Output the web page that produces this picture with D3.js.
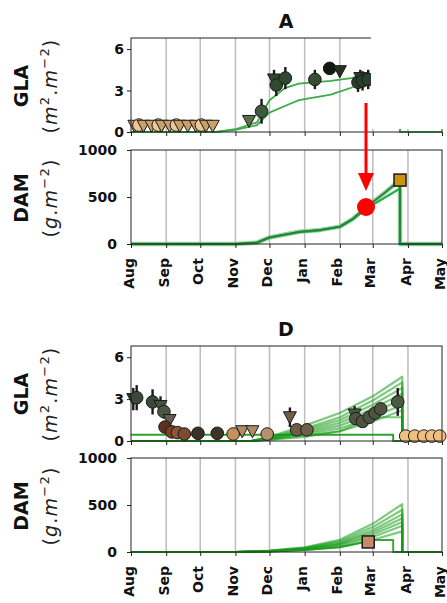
<!DOCTYPE html>
<html><head><meta charset="utf-8">
<script src="https://cdn.jsdelivr.net/npm/d3@7"></script>
<style>body{margin:0;background:#fff}svg{display:block}text{font-family:"DejaVu Sans",sans-serif}</style>
</head><body>
<svg id="c" width="447" height="603"></svg>
<script>
// ---------- DATA ----------
const monthLabels = ["Aug","Sep","Oct","Nov","Dec","Jan","Feb","Mar","Apr","May"];
const monthDates = ["2019-08-01","2019-09-01","2019-10-01","2019-11-01","2019-12-01","2020-01-01","2020-02-01","2020-03-01","2020-04-01","2020-05-01"];
const glaTicks = [0,3,6];
const damTicks = [0,500,1000];

// Panel A - GLA observations
const aObsDates  = ["2019-08-04","2019-08-08","2019-08-12","2019-08-19","2019-08-25","2019-08-28","2019-09-04","2019-09-10","2019-09-13","2019-09-20","2019-09-27","2019-10-02","2019-10-06","2019-10-12",
                    "2019-11-13","2019-11-24","2019-12-05","2019-12-07","2019-12-15","2020-01-10","2020-01-23","2020-02-01","2020-02-17","2020-02-19","2020-02-21","2020-02-26"];
const aObsValues = [0.45,0.5,0.45,0.45,0.5,0.45,0.45,0.5,0.45,0.45,0.45,0.5,0.45,0.45,
                    0.8,1.5,3.8,3.4,3.9,3.8,4.6,4.4,3.6,3.9,3.7,3.8];
const aObsErrors = [0,0,0,0,0,0,0,0,0,0,0,0,0,0,
                    0.3,0.9,0.7,0.8,0.8,0.7,0.2,0.4,0.7,0.6,0.7,0.7];
const aObsShapes = ["v","o","v","v","o","v","v","o","v","v","v","o","v","v",
                    "v","o","v","o","o","o","o","v","o","v","o","o"];
const aObsColors = ["#c9a068","#ecc894","#c9a068","#c9a068","#ecc894","#c9a068","#c9a068","#ecc894","#c9a068","#c9a068","#c9a068","#ecc894","#c9a068","#c9a068",
                    "#5f6e4a","#3d5a3d","#2f4a30","#2f4a30","#2f4a30","#344d34","#111a11","#223322","#2a3f2a","#2a3f2a","#2a3f2a","#2a3f2a"];

// Panel A - GLA simulations
const aGlaSimDates = ["2019-08-01","2019-10-15","2019-11-01","2019-11-20","2019-12-01","2019-12-15","2019-12-27","2020-01-24","2020-02-11","2020-03-01","2020-03-25","2020-03-25","2020-05-01"];
const aGlaSimUpper = [0,0,0.2,0.7,2.3,3.2,3.5,3.7,3.9,4.2,4.3,0,0];
const aGlaSimLower = [0,0,0.15,0.5,1.4,1.9,2.3,2.7,3.2,3.9,4.3,0,0];

// Panel A - DAM simulations & observation
const aDamSimDates = ["2019-08-01","2019-11-01","2019-11-20","2019-12-01","2019-12-27","2020-01-15","2020-02-01","2020-02-12","2020-02-24","2020-03-11","2020-03-25","2020-03-25","2020-05-01"];
const aDamSimUpper = [0,0,15,70,130,150,185,265,390,540,680,0,0];
const aDamSimLower = [0,0,15,68,127,147,182,258,375,490,590,0,0];
const aDamObsDates = ["2020-03-25"];
const aDamObsValues = [680];

// Panel D - GLA observations
const dObsDates  = ["2019-08-03","2019-08-06","2019-08-20","2019-08-27","2019-08-30","2019-09-04","2019-08-31","2019-09-06","2019-09-11","2019-09-17","2019-09-29","2019-10-16","2019-10-30","2019-11-07","2019-11-16","2019-11-29",
                    "2019-12-19","2019-12-25","2020-01-03","2020-02-14","2020-02-15","2020-02-21","2020-02-27","2020-03-03","2020-03-08","2020-03-23","2020-03-30","2020-04-07","2020-04-15","2020-04-22","2020-04-29"];
const dObsValues = [3.0,3.1,2.8,2.5,2.1,1.5,1.0,0.65,0.6,0.5,0.55,0.55,0.5,0.7,0.7,0.5,
                    1.7,0.8,0.8,1.9,1.6,1.4,1.7,2.0,2.3,2.8,0.35,0.35,0.35,0.35,0.35];
const dObsErrors = [0.8,0.9,0.9,0.7,0.5,0.4,0.2,0.1,0.1,0.1,0.1,0.1,0.1,0.1,0.1,0.1,
                    0.7,0.3,0.3,0.6,0.4,0.3,0.3,0.3,0.3,1.0,0,0,0,0,0];
const dObsShapes = ["v","o","o","v","o","v","o","o","o","o","o","o","o","v","v","o",
                    "v","o","o","v","o","o","o","o","o","o","o","o","o","o","o"];
const dObsColors = ["#2f3a2c","#3b4a37","#3b4a37","#43503e","#4a5646","#6a5a50","#5a3020","#7a4028","#8f5535","#7e4a30","#3a3025","#3d3528","#c8905a","#b08a60","#b08a60","#b89070",
                    "#6e5e48","#6e5e48","#6e5e48","#4d5540","#4d5540","#4d5540","#4d5540","#4d5540","#4d5540","#4a5a40","#f0c080","#f0c080","#f0c080","#f0c080","#f0c080"];

// Panel D - GLA simulations
const dGlaFlatDates = ["2019-08-01","2020-03-19","2020-03-19","2020-05-01"];
const dGlaFlatValues = [0.45,0.45,0,0];
const dGlaFanDates = ["2019-08-01","2019-11-15","2019-12-01","2020-01-01","2020-02-01","2020-03-01","2020-03-27","2020-03-27","2020-05-01"];
const dGlaFan1 = [0,0,0.3,1.1,2.0,3.2,4.6,0,0];
const dGlaFan2 = [0,0,0.25,0.9,1.7,2.9,4.2,0,0];
const dGlaFan3 = [0,0,0.2,0.8,1.5,2.6,3.8,0,0];
const dGlaFan4 = [0,0,0.2,0.7,1.3,2.3,3.4,0,0];
const dGlaFan5 = [0,0,0.15,0.6,1.1,2.0,3.0,0,0];
const dGlaFan6 = [0,0,0.15,0.5,0.9,1.7,2.6,0,0];
const dGlaFan7 = [0,0,0.1,0.4,0.7,1.4,2.2,0,0];
const dGlaFan8 = [0,0,0.1,0.3,0.7,1.7,1.7,0,0];

// Panel D - DAM simulations & observation
const dDamFanDates = ["2019-08-01","2019-11-01","2019-12-01","2020-01-01","2020-02-01","2020-03-01","2020-03-27","2020-03-27","2020-05-01"];
const dDamFan1 = [0,0,15,50,130,300,510,0,0];
const dDamFan2 = [0,0,12,45,115,265,450,0,0];
const dDamFan3 = [0,0,10,40,100,235,400,0,0];
const dDamFan4 = [0,0,10,35,90,210,360,0,0];
const dDamFan5 = [0,0,8,30,80,185,320,0,0];
const dDamFan6 = [0,0,8,28,70,160,280,0,0];
const dDamFan7 = [0,0,5,22,55,130,220,0,0];
const dDamStepDates = ["2019-08-01","2019-11-01","2019-12-01","2020-01-01","2020-02-01","2020-03-03","2020-03-19","2020-03-19","2020-05-01"];
const dDamStepValues = [0,0,5,20,50,128,128,0,0];
const dDamObsDates = ["2020-02-26"];
const dDamObsValues = [107];

// ---------- DRAWING ----------
const parse = d3.timeParse("%Y-%m-%d");
const svg = d3.select("#c");
const X0 = 131, X1 = 442;
const x = d3.scaleTime().domain([parse("2019-08-01"), parse("2020-05-01")]).range([X0, X1]);
const tickDates = monthDates.map(parse);

function makePanel(top, bottom, domain, ticks, pad, showX) {
  const y = d3.scaleLinear().domain(domain).range([bottom, top]);
  const g = svg.append("g");
  g.selectAll("line.grid").data(tickDates.slice(1, -1)).enter().append("line")
    .attr("x1", d => x(d)).attr("x2", d => x(d)).attr("y1", top).attr("y2", bottom)
    .attr("stroke", "#bdbdbd").attr("stroke-width", 1.5);
  const layer = g.append("g");
  const ax = g.append("g").attr("transform", `translate(0,${bottom})`)
    .call(d3.axisBottom(x).tickValues(tickDates).tickSize(4).tickFormat((d, i) => showX ? monthLabels[i] : ""));
  ax.select(".domain").remove();
  ax.selectAll("line").attr("stroke", "#222");
  if (showX) {
    ax.selectAll("text").attr("transform", "rotate(-90)").attr("text-anchor", "end")
      .attr("x", -14).attr("y", 0).attr("dy", "0.15em")
      .attr("font-size", 14).attr("font-weight", "bold").attr("fill", "#111");
  }
  const ay = g.append("g").attr("transform", `translate(${X0},0)`)
    .call(d3.axisLeft(y).tickValues(ticks).tickSize(4).tickPadding(pad).tickFormat(d3.format("d")));
  ay.select(".domain").remove();
  ay.selectAll("line").attr("stroke", "#222");
  ay.selectAll("text").attr("font-size", 14).attr("font-weight", "bold").attr("fill", "#111");
  g.append("rect").attr("x", X0).attr("y", top).attr("width", X1 - X0).attr("height", bottom - top)
    .attr("fill", "none").attr("stroke", "#222").attr("stroke-width", 1);
  return {y, layer, g};
}

function line(p, dates, vals, color, width, opacity) {
  const pts = dates.map((d, i) => [x(parse(d)), p.y(vals[i])]);
  p.layer.append("path").attr("d", d3.line()(pts)).attr("fill", "none")
    .attr("stroke", color).attr("stroke-width", width).attr("stroke-opacity", opacity)
    .attr("stroke-linejoin", "round");
}

function markers(p, dates, vals, errs, shapes, colors) {
  dates.forEach((d, i) => {
    const cx = x(parse(d));
    if (errs[i] > 0) {
      p.layer.append("line").attr("x1", cx).attr("x2", cx)
        .attr("y1", p.y(vals[i] - errs[i])).attr("y2", p.y(vals[i] + errs[i]))
        .attr("stroke", "#1a1a1a").attr("stroke-width", 2.4);
    }
  });
  dates.forEach((d, i) => {
    const cx = x(parse(d)), cy = p.y(vals[i]);
    if (shapes[i] === "o") {
      p.layer.append("circle").attr("cx", cx).attr("cy", cy).attr("r", 6.3)
        .attr("fill", colors[i]).attr("stroke", "#1a1a1a").attr("stroke-width", 1);
    } else {
      p.layer.append("path").attr("d", `M${cx-6.5},${cy-5.5}L${cx+6.5},${cy-5.5}L${cx},${cy+6.5}Z`)
        .attr("fill", colors[i]).attr("stroke", "#1a1a1a").attr("stroke-width", 1);
    }
  });
}

function squareMarker(p, dates, vals, color) {
  dates.forEach((d, i) => {
    const cx = x(parse(d)), cy = p.y(vals[i]);
    p.layer.append("rect").attr("x", cx - 6).attr("y", cy - 6).attr("width", 12).attr("height", 12)
      .attr("fill", color).attr("stroke", "#1a1a1a").attr("stroke-width", 1.5);
  });
}

function title(txt, yb) {
  svg.append("text").attr("x", 286).attr("y", yb).attr("text-anchor", "middle")
    .attr("font-size", 19).attr("font-weight", "bold").attr("fill", "#111").text(txt);
}

function ylabel(name, unitBase, supA, supB, cy) {
  svg.append("text").attr("transform", `translate(28,${cy}) rotate(-90)`).attr("text-anchor", "middle")
    .attr("font-size", 19).attr("font-weight", "bold").attr("fill", "#111").text(name);
  const t = svg.append("text").attr("transform", `translate(57,${cy}) rotate(-90)`).attr("text-anchor", "middle")
    .attr("font-size", 19).attr("fill", "#222").attr("letter-spacing", 1.2);
  t.append("tspan").text("(");
  t.append("tspan").attr("font-style", "italic").text(unitBase);
  if (supA) t.append("tspan").attr("font-size", 13).attr("dy", -8).text(supA);
  t.append("tspan").attr("dy", supA ? 8 : 0).text(".");
  t.append("tspan").attr("font-style", "italic").text("m");
  t.append("tspan").attr("font-size", 13).attr("dy", -8).text(supB);
  t.append("tspan").attr("dy", 8).text(")");
}

// Panel A
title("A", 28);
const pA1 = makePanel(38, 132, [0, 6.8], glaTicks, 3, false);
line(pA1, aGlaSimDates, aGlaSimLower, "#3daa4a", 1.8, 1);
line(pA1, aGlaSimDates, aGlaSimUpper, "#3daa4a", 1.8, 1);
markers(pA1, aObsDates, aObsValues, aObsErrors, aObsShapes, aObsColors);
ylabel("GLA", "m", "2", "\u22122", 86);

const pA2 = makePanel(150, 244, [0, 1000], damTicks, 10, true);
line(pA2, aDamSimDates, aDamSimUpper, "#7fc98a", 4.5, 0.8);
line(pA2, aDamSimDates, aDamSimLower, "#1fb54a", 2.4, 1);
line(pA2, aDamSimDates, aDamSimUpper, "#2f7d3a", 1.8, 1);
squareMarker(pA2, aDamObsDates, aDamObsValues, "#c8960c");
ylabel("DAM", "g", null, "\u22122", 198);

// white overlay box and red annotation
svg.append("rect").attr("x", 371).attr("y", 36).attr("width", 72).attr("height", 93).attr("fill", "#fff");
svg.append("line").attr("x1", 366).attr("x2", 366).attr("y1", 103).attr("y2", 176)
  .attr("stroke", "#ff0000").attr("stroke-width", 3);
svg.append("path").attr("d", "M358,173L374,173L366,191Z").attr("fill", "#ff0000");
svg.append("circle").attr("cx", 366).attr("cy", 207).attr("r", 9).attr("fill", "#ff0000");

// Panel D
title("D", 336);
const pD1 = makePanel(346, 441, [0, 6.8], glaTicks, 3, false);
line(pD1, dGlaFlatDates, dGlaFlatValues, "#1a961a", 2, 0.9);
[dGlaFan1, dGlaFan2, dGlaFan3, dGlaFan4, dGlaFan5, dGlaFan6, dGlaFan7, dGlaFan8].forEach(v =>
  line(pD1, dGlaFanDates, v, "#169a16", 2.2, 0.55));
markers(pD1, dObsDates, dObsValues, dObsErrors, dObsShapes, dObsColors);
ylabel("GLA", "m", "2", "\u22122", 394);

const pD2 = makePanel(458, 552, [0, 1000], damTicks, 10, true);
[dDamFan1, dDamFan2, dDamFan3, dDamFan4, dDamFan5, dDamFan6, dDamFan7].forEach(v =>
  line(pD2, dDamFanDates, v, "#169a16", 2.2, 0.55));
line(pD2, dDamStepDates, dDamStepValues, "#169a16", 2, 0.85);
squareMarker(pD2, dDamObsDates, dDamObsValues, "#c98a6a");
ylabel("DAM", "g", null, "\u22122", 506);
</script>
</body></html>
